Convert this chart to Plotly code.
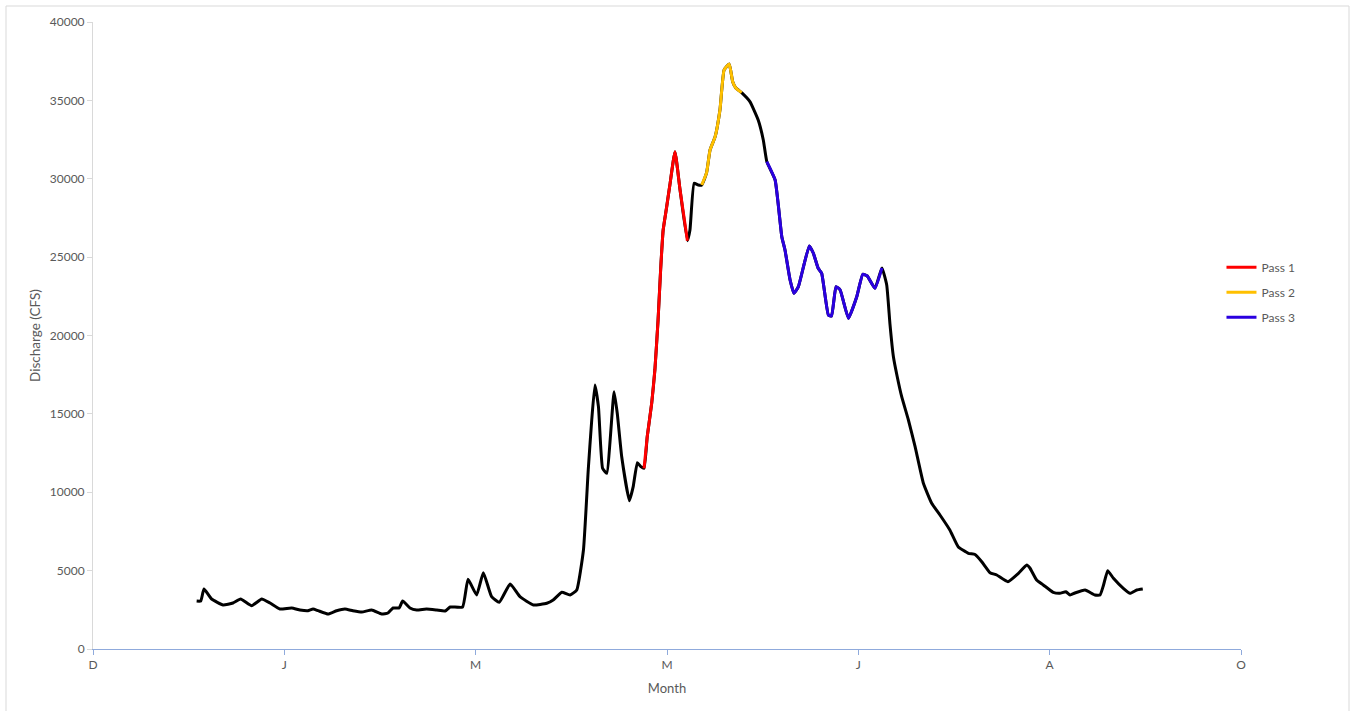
import plotly.graph_objects as go

# Day offset from the first axis tick ("D"), ticks every 60 days
days = [32.5, 33.8, 34.8, 37.2, 40.8, 43.9, 46.3, 49.8, 52.9, 55.5, 58.6, 62.3, 64.9, 67.4, 69.0,
        70.6, 73.7, 76.4, 79.0, 81.5, 84.3, 87.4, 90.5, 92.5, 94.1, 96.0, 97.1, 99.4, 101.5, 104.6,
        107.8, 110.4, 112.0, 115.9, 117.6, 120.3, 122.4, 125.0, 127.4, 130.8, 133.9, 138.1, 142.3,
        144.3, 147.0, 149.6, 151.7, 153.8, 155.3, 156.4, 157.4, 158.5, 159.8, 161.1, 163.4, 164.4,
        165.8, 168.2, 169.4, 170.7, 171.8, 172.8,
        173.8, 175.2, 176.2, 177.2, 178.0, 178.8, 179.9, 180.9, 182.5, 184.1, 186.4,
        187.2, 188.5, 189.8, 190.9,
        192.4, 193.5, 195.1, 196.6, 197.9, 199.5, 200.6, 201.6, 203.4,
        206.0, 208.6, 210.2, 211.3,
        213.9, 216.0, 217.0, 218.6, 219.8, 221.2, 224.6, 225.9, 227.4, 228.5, 230.6, 231.6, 233.0,
        234.3, 236.9, 239.5, 241.4, 242.8, 245.2, 247.4,
        248.9, 249.9, 251.0, 252.2, 253.6, 255.7, 257.8, 260.4, 263.0, 265.6, 268.7, 271.3, 274.5,
        276.6, 278.7, 281.3, 283.4, 286.9, 290.2, 292.8, 293.8, 295.9, 298.0, 301.1, 303.2, 305.1,
        306.4, 307.9, 311.1, 314.2, 315.8, 316.9, 318.2, 320.0, 323.1, 325.2, 327.3, 329.2]

discharge = [3062, 3062, 3828, 3190, 2807, 2935, 3190, 2763, 3190, 2935, 2552, 2616, 2488, 2444, 2552,
             2444, 2233, 2444, 2552, 2444, 2361, 2488, 2233, 2297, 2616, 2616, 3062, 2616, 2488, 2552,
             2488, 2424, 2680, 2680, 4447, 3445, 4868, 3337, 2979, 4147, 3337, 2807, 2916,
             3126, 3617, 3445, 3764, 6316, 11420, 14610, 16843, 15459, 11529, 11210, 16416, 15038,
             12269, 9462, 10355, 11886, 11631, 11529,
             13545, 15676, 17800, 20990, 24180, 26732, 28219, 29603, 31728, 29284, 26050,
             26732, 29712, 29603, 29603,
             30369, 31836, 32685, 34388, 36940, 37323, 36194, 35792, 35492,
             34918, 33750, 32474, 31090,
             29922, 26305, 25456, 23542, 22694, 23115, 25711, 25246, 24289, 23970, 21309, 21245, 23115,
             22904, 21099, 22477, 23906, 23797, 23013, 24308,
             23223, 20780, 18649, 17373, 16097, 14610, 12907, 10572, 9296, 8549, 7592, 6527, 6106,
             6029, 5570, 4868, 4721, 4294, 4830, 5359, 5168, 4402, 4083, 3617, 3554, 3656,
             3445, 3573, 3764, 3445, 3445, 4083, 4996, 4511, 3873, 3554, 3764, 3828]

# Pass windows (day offsets, inclusive)
pass_names = ["Pass 1", "Pass 2", "Pass 3"]
pass_start = [172.8, 190.9, 211.3]
pass_end = [186.4, 203.4, 247.4]
pass_colors = ["#ff0000", "#ffc000", "#2a00e0"]

tick_vals = [0, 60, 120, 180, 240, 300, 360]
tick_text = ["D", "J", "M", "M", "J", "A", "O"]
y_ticks = list(range(0, 40001, 5000))

fig = go.Figure()
fig.add_trace(go.Scatter(x=days, y=discharge, mode="lines",
                         line=dict(color="#000000", width=3, shape="spline", smoothing=0.4),
                         showlegend=False, hoverinfo="skip"))
for name, s, e, c in zip(pass_names, pass_start, pass_end, pass_colors):
    xs = [d for d in days if s <= d <= e]
    ys = [v for d, v in zip(days, discharge) if s <= d <= e]
    fig.add_trace(go.Scatter(x=xs, y=ys, mode="lines", name=name, legendgroup=name,
                             line=dict(color=c, width=3, shape="spline", smoothing=0.4)))

font_color = "#595959"
fig.update_layout(
    width=1351, height=711,
    margin=dict(l=93, r=110, t=22, b=62),
    paper_bgcolor="white", plot_bgcolor="white",
    font=dict(family="Lato, Open Sans, sans-serif", size=12, color=font_color),
    legend=dict(x=0.983, y=0.632, xanchor="left", yanchor="top",
                font=dict(size=12, color=font_color), tracegroupgap=6,
                bgcolor="rgba(0,0,0,0)"),
    xaxis=dict(range=[0, 360], tickvals=tick_vals, ticktext=tick_text,
               showgrid=False, zeroline=False, showline=True, linecolor="#8faadc",
               linewidth=1, ticks="outside", ticklen=5, tickcolor="#8faadc",
               title=dict(text="Month", font=dict(size=13, color=font_color), standoff=12),
               tickfont=dict(size=12, color=font_color)),
    yaxis=dict(range=[0, 40000], tickvals=y_ticks, tickformat="d", showgrid=False,
               zeroline=False, showline=True, linecolor="#d9d9d9", linewidth=1,
               ticks="outside", ticklen=5, tickcolor="#d9d9d9",
               title=dict(text="Discharge (CFS)", font=dict(size=13.5, color=font_color),
                          standoff=6),
               tickfont=dict(size=12, color=font_color)),
    shapes=[dict(type="rect", xref="paper", yref="paper",
                 x0=(6 - 93) / 1148, x1=(1349 - 93) / 1148,
                 y0=(649 - 714) / 627, y1=(649 - 6) / 627,
                 line=dict(color="#d9d9d9", width=1), fillcolor="rgba(0,0,0,0)", layer="below")],
)

fig.write_html("out.html", config={"displayModeBar": False},
               post_script="document.body.style.margin='0';")
